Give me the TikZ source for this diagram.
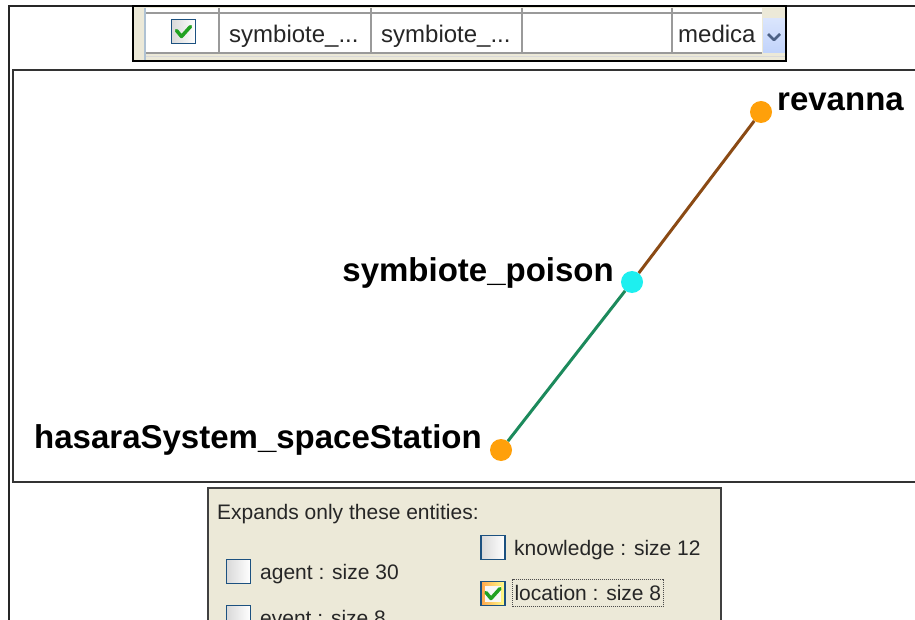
\documentclass[tikz,border=0pt]{standalone}
\usepackage{fontspec}
\setmainfont{Liberation Sans}
\usetikzlibrary{positioning}

\definecolor{xpbeige}{HTML}{ECE9D8}
\definecolor{boxblue}{HTML}{1C5180}
\definecolor{tickgreen}{HTML}{21A121}
\definecolor{dotorange}{HTML}{FFA00A}
\definecolor{dotcyan}{HTML}{1EEFEF}
\definecolor{edgebrown}{HTML}{8B4A14}
\definecolor{edgegreen}{HTML}{1C8A5C}
\definecolor{gridgray}{HTML}{9A9A9A}
\definecolor{dropblue}{HTML}{C1D3FB}
\definecolor{chevblue}{HTML}{4D6185}

\newcommand{\drawtick}[1]{%
  \draw[tickmark] ([shift={(-7,-1)}]#1.center) -- ([shift={(-2,5)}]#1.center) -- ([shift={(7,-5)}]#1.center);}

\begin{document}
\begin{tikzpicture}[x=1pt, y=-1pt,
        orangedot/.style={circle, fill=dotorange, minimum size=22pt, inner sep=0pt},
        cyandot/.style={circle, fill=dotcyan, minimum size=22pt, inner sep=0pt},
        lbl/.style={font=\fontsize{33}{40}\selectfont\bfseries, inner sep=0pt},
        uitext/.style={font=\fontsize{21}{25}\selectfont, inner sep=0pt, text=black!85},
        celltext/.style={font=\fontsize{24}{28}\selectfont, inner sep=0pt, text=black!85},
        checkbox/.style={rectangle, draw=boxblue, line width=1.5pt, left color=black!15, right color=white, minimum size=24pt, inner sep=0pt},
        tickmark/.style={draw=tickgreen, line width=3.5pt, line join=round, line cap=round},
        panelframe/.style={draw=black!80, line width=2pt},
        gridline/.style={draw=gridgray, line width=1.5pt}
    ]
    \useasboundingbox (0,0) rectangle (915,620);
    \fill[white] (0,0) rectangle (915,620);

    % Outer window frame
    \draw[black!85, line width=1.5pt] (9,625) -- (9,6) -- (915,6);

    % Top table row
    \fill[xpbeige] (133,6) rectangle (786,61);
    \fill[white] (146,8) rectangle (762,53);
    \draw[black!15, line width=1pt] (146,57) -- (786,57);
    \draw[gridline] (146,13) -- (762,13);
    \draw[gridline] (146,53) -- (762,53);
    \draw[boxblue!35, line width=1.5pt] (145,8) -- (145,61);
    \draw[gridline, line width=2pt] (219,8) -- (219,53);
    \draw[gridline] (371,8) -- (371,53);
    \draw[gridline] (522,8) -- (522,53);
    \draw[gridline] (672,8) -- (672,53);
    \node[checkbox] (rowcheck) at (183.5,31.5) {};
    \drawtick{rowcheck}
    \node[celltext, anchor=base west] (cellA) at (229,43) {symbiote\_...};
    \node[celltext, anchor=base west] (cellB) at (381,43) {symbiote\_...};
    \node[celltext, anchor=base west] (cellD) at (678,43) {medica};
    \node[rectangle, top color=dropblue!60, bottom color=dropblue, minimum width=22pt, minimum height=34pt, inner sep=0pt] (dropdown) at (774,36) {};
    \draw[chevblue, line width=2.5pt, line join=round] ([shift={(-6,-2)}]dropdown.center) -- ([shift={(0,4)}]dropdown.center) -- ([shift={(6,-2)}]dropdown.center);
    \draw[black, line width=2pt] (133,6) rectangle (786,61);

    % Graph panel
    \draw[panelframe] (915,70) -- (13,70) -- (13,482) -- (915,482);
    \node[orangedot] (revanna) at (761,112) {};
    \node[cyandot] (poison) at (632,282) {};
    \node[orangedot] (hasara) at (501,450) {};
    \draw[edgebrown, line width=3pt] (revanna) -- (poison);
    \draw[edgegreen, line width=3pt] (poison) -- (hasara);
    \node[lbl, anchor=base west] (revannaL) at (777,111) {revanna};
    \node[lbl, anchor=base east] (poisonL) at (614,281) {symbiote\_poison};
    \node[lbl, anchor=base east] (hasaraL) at (482,448) {hasaraSystem\_spaceStation};

    % Entity filter panel
    \draw[fill=xpbeige, draw=black!75, line width=1.5pt] (208,630) -- (208,488) -- (721,488) -- (721,630);
    \node[uitext, anchor=base west] (expands) at (217,519.5) {Expands only these entities:};
    \node[checkbox] (agentbox) at (238.5,571.5) {};
    \node[uitext, anchor=base west] (agent) at (260,579.5) {agent : size 30};
    \node[checkbox] (eventbox) at (238.5,617.5) {};
    \node[uitext, anchor=base west] (event) at (260,625) {event : size 8};
    \node[checkbox] (knowbox) at (493,547.5) {};
    \node[uitext, anchor=base west] (knowledge) at (514,555.5) {knowledge : size 12};
    \node[checkbox, left color=orange!70, right color=yellow!45] (locbox) at (493,593.5) {};
    \node[rectangle, fill=black!3, minimum size=16pt, inner sep=0pt] (locboxin) at (locbox) {};
    \drawtick{locbox}
    \node[uitext, anchor=base west, draw=black!70, densely dotted, line width=1pt, inner xsep=2pt, inner ysep=6pt] (location) at (512,600.5) {location : size 8};

\end{tikzpicture}
\end{document}
